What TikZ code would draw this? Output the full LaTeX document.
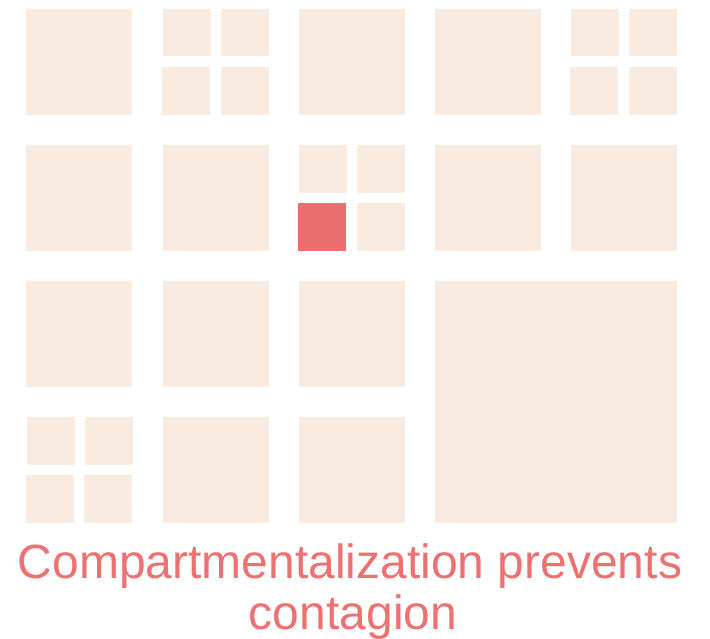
\documentclass[tikz,border=0pt]{standalone}
\usepackage{fontspec}
\setmainfont{Liberation Sans}
\definecolor{cellfill}{HTML}{FAEBE0}
\definecolor{hotcell}{HTML}{EB6E6E}
\definecolor{captioncol}{HTML}{EE7171}
\begin{document}
\begin{tikzpicture}[x=1pt,y=-1pt,
  cell/.style={fill=cellfill},
  hot/.style={fill=hotcell},
  caption/.style={text=captioncol,font=\fontsize{48}{51}\selectfont,inner sep=0pt,anchor=base}]
\useasboundingbox (0,0) rectangle (710,639);
% big single squares
\foreach \cx/\cy in {26/9, 299/9, 435/9,
                     26/145, 163/145, 435/145, 571/145,
                     26/281, 163/281, 299/281,
                     163/417, 299/417}
  \fill[cell] (\cx,\cy) rectangle ++(106,106);
% quadrants
\foreach \qx/\qy in {163/9, 571/9}{
  \fill[cell] (\qx,\qy) rectangle ++(48,47);
  \fill[cell] (\qx+58,\qy) rectangle ++(48,47);
  \fill[cell] (\qx-1,\qy+58) rectangle ++(48,48);
  \fill[cell] (\qx+58,\qy+58) rectangle ++(48,48);
}
\fill[cell] (27,417) rectangle (75,465);
\fill[cell] (85,417) rectangle (133,465);
\fill[cell] (26,475) rectangle (74,523);
\fill[cell] (84,475) rectangle (132,523);
% middle quadrant with the infected cell
\fill[cell] (299,145) rectangle (347,193);
\fill[cell] (357,145) rectangle (405,193);
\fill[hot]  (298,203) rectangle (346,251);
\fill[cell] (357,203) rectangle (405,251);
% large merged block
\fill[cell] (435,281) rectangle (677,523);
% caption
\node[caption] (line1) at (350,578) {Compartmentalization prevents};
\node[caption] (line2) at (353,629) {contagion};
\end{tikzpicture}
\end{document}
